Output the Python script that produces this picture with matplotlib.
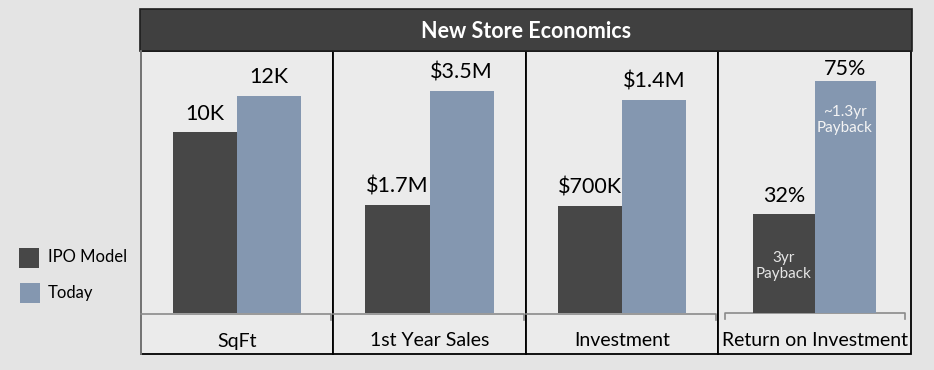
import matplotlib
matplotlib.use("Agg")
import matplotlib.pyplot as plt
from matplotlib.patches import Rectangle
from matplotlib.lines import Line2D

plt.rcParams['font.family'] = ['Lato', 'DejaVu Sans']

# ---- data ----
title = "New Store Economics"
categories = ["SqFt", "1st Year Sales", "Investment", "Return on Investment"]
series_names = ["IPO Model", "Today"]
ipo_values = [10, 1.7, 0.7, 32]          # K sqft, $M, $M, %
today_values = [12, 3.5, 1.4, 75]
ipo_labels = ["10K", "$1.7M", "$700K", "32%"]
today_labels = ["12K", "$3.5M", "$1.4M", "75%"]
roi_notes = ["3yr\nPayback", "~1.3yr\nPayback"]

# ---- style / layout ----
W, H = 934, 370
DARK = "#474747"
BLUE = "#8497b0"
FIG_BG = "#e4e4e4"
PANEL_BG = "#ebebeb"
TITLE_BG = "#404040"
panel_left = [141, 333, 526, 718]
panel_right = [333, 526, 718, 911]
ylim_factor = [1.207, 1.180, 1.230, 1.129]
xlim_half = [1.5, 1.5, 1.5, 1.58]
label_off = [[9, 9], [9, 9], [9, 9], [8.5, 4.5]]
TOP, BASE, BOTTOM = 51, 313, 354


def fx(px):
    return px / W


def fy(py):
    return 1 - py / H


fig = plt.figure(figsize=(W / 100, H / 100), dpi=100, facecolor=FIG_BG)

# title bar
fig.add_artist(Rectangle((fx(140), fy(51)), fx(912) - fx(140), (51 - 9) / H,
                         transform=fig.transFigure, facecolor=TITLE_BG,
                         edgecolor="#1e1e1e", lw=1.2, zorder=2))
fig.text(fx(526), fy(37.5), title, color="white", fontsize=15.5,
         fontweight="bold", ha="center", va="baseline", zorder=3)

for i in range(4):
    l, r = panel_left[i], panel_right[i]
    # panel background + border
    fig.add_artist(Rectangle((fx(l), fy(BOTTOM)), fx(r) - fx(l), (BOTTOM - TOP) / H,
                             transform=fig.transFigure, facecolor=PANEL_BG,
                             edgecolor="black", lw=1.3, zorder=1))
    ax = fig.add_axes([fx(l), fy(BASE), fx(r) - fx(l), (BASE - TOP) / H])
    ax.set_zorder(5)
    ax.set_axis_off()
    vals = [ipo_values[i], today_values[i]]
    ax.set_xlim(-xlim_half[i], xlim_half[i])
    ax.set_ylim(0, max(vals) * ylim_factor[i])
    bars = ax.bar([-0.5, 0.5], vals, width=1.0, color=[DARK, BLUE], zorder=2)
    for b, lab, off in zip(bars, [ipo_labels[i], today_labels[i]], label_off[i]):
        ax.annotate(lab, (b.get_x() + b.get_width() / 2, b.get_height()),
                    xytext=(0, off), textcoords="offset points",
                    ha="center", va="baseline", fontsize=15.5, color="black")
    if i == 3:
        offs = [-52, -39]
        colors = ["#e6e6e6", "#f4f4f4"]
        for b, note, off, c in zip(bars, roi_notes, offs, colors):
            ax.annotate(note, (b.get_x() + b.get_width() / 2, b.get_height()),
                        xytext=(0, off * 0.72), textcoords="offset points",
                        ha="center", va="center", fontsize=11, color=c,
                        linespacing=1.2)
    # bracket below baseline
    if i < 3:
        x0, x1 = l, r - 2
        fig.add_artist(Line2D([fx(x0), fx(x1), fx(x1)], [fy(BASE + 1), fy(BASE + 1), fy(BASE + 7)],
                              transform=fig.transFigure, color="#8a8a8a", lw=1.2, zorder=3))
    else:
        x0, x1 = l + 7, r - 6
        fig.add_artist(Line2D([fx(x0), fx(x0), fx(x1), fx(x1)],
                              [fy(BASE + 6), fy(BASE), fy(BASE), fy(BASE + 6)],
                              transform=fig.transFigure, color="#8a8a8a", lw=1.2, zorder=3))
    fig.text(fx((l + r) / 2), fy(346.5), categories[i], fontsize=14,
             ha="center", va="baseline", color="black", zorder=3)

# panel 1 left edge is grey
fig.add_artist(Line2D([fx(141), fx(141)], [fy(TOP), fy(BOTTOM)],
                      transform=fig.transFigure, color="#808080", lw=1.3, zorder=2))

# legend
for (x0, y0), col, name, base in zip([(19, 248), (20, 283)], [DARK, BLUE],
                                     series_names, [262, 298]):
    fig.add_artist(Rectangle((fx(x0), fy(y0 + 20)), 20 / W, 20 / H,
                             transform=fig.transFigure, facecolor=col, edgecolor="none"))
    fig.text(fx(48), fy(base), name, fontsize=12, ha="left", va="baseline", color="black")

fig.savefig("out.png", dpi=100, facecolor=FIG_BG)
